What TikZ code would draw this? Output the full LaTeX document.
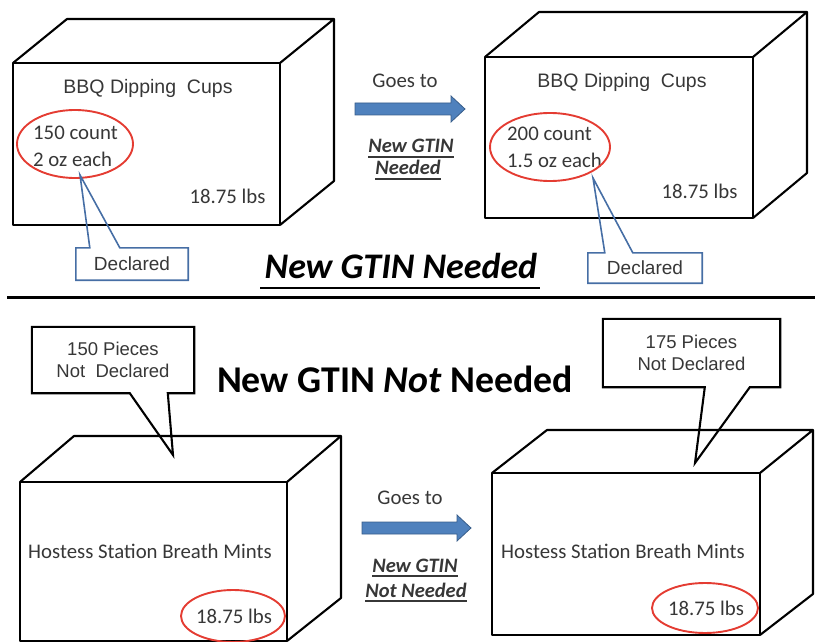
\documentclass[tikz,border=0pt]{standalone}
\usepackage{fontspec}
\setmainfont{Carlito}
\newfontfamily\arialf{Liberation Sans}
\usetikzlibrary{shapes.geometric}
\definecolor{txtgray}{RGB}{55,55,55}
\definecolor{arrowblue}{RGB}{79,129,189}
\definecolor{arrowedge}{RGB}{56,93,138}
\definecolor{calloutblue}{RGB}{70,110,165}
\definecolor{ringred}{RGB}{228,60,50}
\begin{document}
\begin{tikzpicture}[x=1pt,y=-1pt,
  crate/.style={draw=black,line width=2.1pt,line join=round},
  cal/.style={font=\fontsize{20.8}{27}\selectfont,text=txtgray,inner sep=0pt},
  ari/.style={font=\arialf\fontsize{19}{22.5}\selectfont,text=txtgray,inner sep=0pt},
  boxtitle/.style={font=\arialf\fontsize{19.5}{23}\selectfont,text=txtgray,inner sep=0pt},
  ring/.style={ellipse,draw=ringred,line width=1.9pt,inner sep=0pt},
  bluecall/.style={draw=calloutblue,line width=1.6pt,line join=miter},
  blackcall/.style={draw=black,line width=2.1pt,line join=miter},
  goarrow/.style={fill=arrowblue,draw=arrowedge,line width=0.8pt,line join=miter},
  sidenote/.style={font=\bfseries\itshape\fontsize{20.5}{24}\selectfont,text=txtgray,inner sep=0pt},
  noteline/.style={draw=txtgray,line width=1.2pt},
  headline/.style={font=\bfseries\fontsize{36}{40}\selectfont,text=black,inner sep=0pt}]
\useasboundingbox (0,0) rectangle (815,642);

% ---------- top section ----------
% box 1
\draw[crate] (13,63) rectangle (280,225);
\draw[crate] (13,63) -- (67,19) -- (334,19) -- (280,63);
\draw[crate] (334,19) -- (334,181) -- (280,225);
% box 2
\draw[crate] (485,57) rectangle (753,218);
\draw[crate] (485,57) -- (539,12) -- (807,12) -- (753,57);
\draw[crate] (807,12) -- (807,173) -- (753,218);

\node[boxtitle,anchor=base] (bbq1) at (148,94) {BBQ Dipping\ \ Cups};
\node[cal,align=left,anchor=west] (cnt1) at (33,146) {150 count\\2 oz each};
\node[cal,anchor=base] (wt1) at (227.5,204) {18.75 lbs};
\node[ring,minimum width=116pt,minimum height=68pt] (ring1) at (75,144) {};

\node[boxtitle,anchor=base] (bbq2) at (622,88) {BBQ Dipping\ \ Cups};
\node[cal,align=left,anchor=west] (cnt2) at (507,147) {200 count\\1.5 oz each};
\node[cal,anchor=base] (wt2) at (699.5,198) {18.75 lbs};
\node[ring,minimum width=120pt,minimum height=68pt] (ring2) at (550,147) {};

% declared callouts
\node[ari,minimum width=112pt,minimum height=32pt] (decl1) at (132,264) {Declared};
\coordinate (tip1) at (80,175);
\draw[bluecall] (decl1.north west) -- ([xshift=14pt]decl1.north west) -- (tip1)
  -- ([xshift=44pt]decl1.north west) -- (decl1.north east) -- (decl1.south east)
  -- (decl1.south west) -- cycle;

\node[ari,minimum width=114pt,minimum height=30pt] (decl2) at (645,268) {Declared};
\coordinate (tip2) at (593,178);
\draw[bluecall] (decl2.north west) -- ([xshift=17pt]decl2.north west) -- (tip2)
  -- ([xshift=45pt]decl2.north west) -- (decl2.north east) -- (decl2.south east)
  -- (decl2.south west) -- cycle;

% goes to arrow (top)
\node[cal,anchor=base] (goes1) at (405,88) {Goes to};
\draw[goarrow] (355,103) -- (451,103) -- (451,96) -- (465,109) -- (451,122) -- (451,115) -- (355,115) -- cycle;
\node[sidenote,anchor=base] (gtin1) at (411,153) {New GTIN};
\node[sidenote,anchor=base] (need1) at (408,175) {Needed};
\draw[noteline] ([yshift=-4pt]gtin1.base west) -- ([yshift=-4pt]gtin1.base east);
\draw[noteline] ([yshift=-4pt]need1.base west) -- ([yshift=-4pt]need1.base east);

% title
\node[headline,anchor=base] (title1) at (401,278) {\itshape New GTIN Needed};
\draw[line width=2.5pt] ([yshift=-10pt,xshift=-4pt]title1.base west) -- ([yshift=-10pt,xshift=2pt]title1.base east);

% separator
\draw[line width=3pt] (7,297) -- (815,297);

% ---------- bottom section ----------
\node[headline,font=\bfseries\fontsize{37.8}{42}\selectfont,anchor=base] (title2) at (395,392) {New GTIN \textit{Not} Needed};

% box 3
\draw[crate] (20,482) rectangle (287,641);
\draw[crate] (20,482) -- (74,436) -- (341,436) -- (287,482);
\draw[crate] (341,436) -- (341,598) -- (287,641);
% box 4
\draw[crate] (492,473) rectangle (760,635);
\draw[crate] (492,473) -- (547,430) -- (813,430) -- (760,473);
\draw[crate] (813,430) -- (813,594) -- (760,635);

\node[cal,anchor=base] (mint1) at (150,558) {Hostess Station Breath Mints};
\node[cal,anchor=base] (wt3) at (234,623) {18.75 lbs};
\node[ring,minimum width=104pt,minimum height=52pt] (ring3) at (233,616) {};

\node[cal,anchor=base] (mint2) at (623,558) {Hostess Station Breath Mints};
\node[cal,anchor=base] (wt4) at (706,615) {18.75 lbs};
\node[ring,minimum width=106pt,minimum height=50pt] (ring4) at (705,608) {};

% pieces callouts
\node[ari,font=\arialf\fontsize{18.5}{22.5}\selectfont,align=center,minimum width=162pt,minimum height=66pt] (pcs1) at (113,360) {150 Pieces\\Not\ \ Declared};
\coordinate (tip3) at (173,455);
\draw[blackcall] (pcs1.north west) -- (pcs1.north east) -- (pcs1.south east)
  -- ([xshift=136pt]pcs1.south west) -- (tip3) -- ([xshift=98pt]pcs1.south west)
  -- (pcs1.south west) -- cycle;

\node[ari,font=\arialf\fontsize{18.5}{22.5}\selectfont,align=center,minimum width=177pt,minimum height=68pt] (pcs2) at (691.5,353) {175 Pieces\\Not Declared};
\coordinate (tip4) at (695,463);
\draw[blackcall] (pcs2.north west) -- (pcs2.north east) -- (pcs2.south east)
  -- ([xshift=147pt]pcs2.south west) -- (tip4) -- ([xshift=102pt]pcs2.south west)
  -- (pcs2.south west) -- cycle;

% goes to arrow (bottom)
\node[cal,anchor=base] (goes2) at (410,504) {Goes to};
\draw[goarrow] (362,522) -- (457,522) -- (457,515) -- (471,528) -- (457,541) -- (457,534) -- (362,534) -- cycle;
\node[sidenote,anchor=base] (gtin2) at (415,572) {New GTIN};
\node[sidenote,anchor=base] (need2) at (416,597) {Not Needed};
\draw[noteline] ([yshift=-4pt]gtin2.base west) -- ([yshift=-4pt]gtin2.base east);
\draw[noteline] ([yshift=-4pt]need2.base west) -- ([yshift=-4pt]need2.base east);
\end{tikzpicture}
\end{document}
